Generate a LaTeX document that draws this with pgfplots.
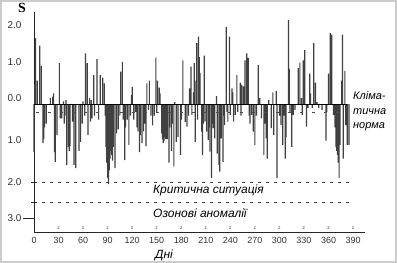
\documentclass[border=0pt]{standalone}
\usepackage{fontspec}
\setmainfont{Liberation Sans}
\newfontfamily\serifS{Liberation Serif}
\usepackage{pgfplots}
\pgfplotsset{compat=1.18}
\begin{document}
\begin{tikzpicture}[x=1bp,y=1bp]
\path[use as bounding box] (0,0) rectangle (397,263);
\fill[white] (0,0) rectangle (397,263);
\draw[black!20, line width=2.5bp] (1.2,1.2) rectangle (395.8,261.8);
\begin{axis}[at={(34bp,31bp)}, anchor=south west, scale only axis,
  width=331bp, height=219.65bp,
  xmin=0, xmax=404.6, ymin=-3.28, ymax=2.35,
  axis x line=bottom, axis y line=left,
  axis line style={-, black!85, line width=0.8pt},
  xtick={0,30,...,390},
  ytick={2.03,1.07,0.15,-0.92,-2.0,-2.93},
  yticklabels={2.0,1.0,0.0,1.0,2.0,3.0},
  major tick length=0pt,
  /pgf/number format/assume math mode=true,
  xticklabel style={font=\fontsize{9}{10}\selectfont, text=black!80, yshift=-2bp},
  yticklabel style={font=\fontsize{10}{11}\selectfont, text=black!80, xshift=-9bp},
  clip=false]
\addplot[ybar, bar width=1.2bp, fill=black!75, draw=none] coordinates {
(0,-1.23)(1,0.49)(2,1.69)(4,0.6)(7,1.5)(9,0.98)(11,-1.0)(12,-0.9)(13,-0.6)(15,-0.5)
(20,0.15)(23,0.19)(24,0.27)(25,-1.23)(26,-1.48)(28,-0.8)(31,1.05)(32,-0.37)(34,-0.37)
(36,0.07)(37,-0.5)(38,-0.3)(39,0.1)(40,-1.56)(42,-1.1)(43,-1.2)(44,-1.08)(47,-0.45)
(49,-1.56)(51,-1.64)(55,-1.2)(57,-0.97)(59,-0.5)(60,0.07)(62,-0.3)(63,1.3)(65,1.05)
(66,-0.8)(68,0.15)(69,-0.45)(70,0.1)(71,-0.37)(73,0.74)(74,-0.3)(77,1.15)(79,-0.4)
(81,0.74)(84,0.68)(86,0.53)(87,-0.3)(88,-1.1)(89,-1.5)(90,-1.9)(91,-2.05)(92,-1.7)
(93,-1.4)(94,-1.2)(95,-1.3)(96,-1.45)(97,-1.1)(99,-1.64)(101,-0.75)(103,-0.65)
(105,-0.3)(106,0.83)(108,1.08)(109,-0.4)(111,-1.44)(112,-0.6)(114,-0.4)(116,-1.05)
(118,-0.3)(119,0.23)(120,0.44)(122,-0.4)(124,-0.2)(126,-0.6)(127,-0.7)(129,-1.23)
(130,-0.8)(132,-1.0)(134,-0.7)(135,-0.5)(137,-1.08)(138,0.53)(140,-0.15)(141,0.6)
(143,-0.3)(145,-0.55)(147,-0.3)(149,1.19)(150,-0.2)(151,0.6)(153,0.42)(154,0.27)
(156,-0.75)(157,-0.9)(158,-1.0)(159,-0.95)(160,-0.85)(161,-0.9)(163,-0.9)(165,-1.5)
(166,-0.6)(168,-1.2)(169,-0.5)(171,-1.6)(172,0.05)(174,-0.97)(176,-0.85)(179,-1.3)
(180,-0.4)(182,1.12)(185,-0.46)(187,-0.58)(189,-0.3)(190,0.4)
(192,0.96)(193,-0.28)(195,0.3)(196,1.05)(197,-0.97)(198,0.6)(199,1.56)(200,-0.4)
(201,1.73)(202,1.2)(203,0.8)(205,-0.71)(206,-1.31)(207,-0.5)(208,1.24)(209,-0.45)
(211,-0.71)(213,-0.92)(214,-0.6)(215,-1.22)(217,-1.9)(218,-0.5)(219,-0.62)(221,-0.88)
(223,0.2)(224,-1.27)(226,-1.56)(227,-1.73)(228,-0.6)(229,-0.88)(231,-1.48)(232,-0.3)
(233,-0.54)(235,1.98)(236,-0.2)(237,-0.45)(239,1.73)(240,-0.28)(242,0.4)(243,0.3)
(244,-0.45)(246,-0.28)(248,0.74)(249,-0.2)(252,0.55)(253,-0.3)(254,0.5)(256,0.45)
(258,1.12)(260,1.3)(262,1.18)(263,-0.3)(264,-0.5)(266,-0.28)(268,-0.71)(270,-1.05)
(272,-0.3)(274,1.0)(276,0.15)(278,-0.37)(281,-1.31)(282,-0.5)(284,-0.88)(285,-1.4)
(287,0.1)(290,-0.62)(292,0.3)(293,-0.8)(296,0.33)(297,-1.9)(300,-0.3)(302,-0.54)
(304,-1.05)(306,-0.3)(307,-1.4)(308,-0.85)(311,2.15)(312,0.9)(313,-0.2)(315,-1.1)
(317,-0.28)(319,-0.15)(323,0.92)(325,1.06)(327,0.15)(328,-0.28)(329,1.12)(331,1.38)
(333,-0.58)(335,-0.1)(337,0.78)(338,0.27)(340,-0.1)(342,1.56)(344,0.55)(346,0.05)
(348,-0.1)(352,-0.15)(357,-0.94)(358,-0.2)(360,0.78)(362,1.82)(364,1.78)(366,-0.28)
(368,-0.6)(369,-1.1)(370,-1.2)(371,-1.3)(372,-1.5)(373,-1.9)(374,-1.05)(376,0.6)
(377,1.78)(378,-1.4)(380,0.85)(381,-0.54)(383,-1.05)(385,-1.05)
};
\addplot[black, line width=1bp] coordinates {(0,0)(383,0)};
\addplot[black!70, line width=0.6pt, dash pattern=on 3bp off 9bp] coordinates {(2,-0.2)(382,-0.2)};
\addplot[black!75, line width=0.6pt, dash pattern=on 3bp off 5bp] coordinates {(0,-2)(390,-2)};
\addplot[black!75, line width=0.6pt, dash pattern=on 3bp off 5bp] coordinates {(0,-2.53)(390,-2.53)};
\draw[black!85, line width=0.8pt] (axis cs:0,-2) ++(-3bp,0bp) -- ++(6bp,0bp);
\draw[black!85, line width=0.8pt] (axis cs:0,-2.53) ++(-3bp,0bp) -- ++(6bp,0bp);
\draw[black!85, line width=0.8pt] (axis cs:0,-2.93) -- ++(-11bp,0bp);
\pgfplotsinvokeforeach{30,60,...,390}{\node[font=\fontsize{5}{5}\selectfont, text=black!70, inner sep=0pt] at (axis cs:#1,-3.28) [yshift=4bp] {z};}
\end{axis}
\node[font=\serifS\bfseries\fontsize{14}{14}\selectfont] at (22,255) {S};
\node[font=\itshape\fontsize{11}{12}\selectfont, anchor=west, inner sep=0pt] at (353,167) {Кліма-};
\node[font=\itshape\fontsize{11}{12}\selectfont, anchor=west, inner sep=0pt] at (353,151.5) {тична};
\node[font=\itshape\fontsize{11}{12}\selectfont, anchor=west, inner sep=0pt] at (353,136) {норма};
\node[font=\itshape\fontsize{12}{13}\selectfont, anchor=west, inner sep=0pt] at (153,73) {Критична ситуація};
\node[font=\itshape\fontsize{12}{13}\selectfont, anchor=west, inner sep=0pt] at (153,50) {Озонові аномалії};
\node[font=\itshape\fontsize{12}{13}\selectfont, anchor=west, inner sep=0pt] at (155,8) {Дні};
\end{tikzpicture}
\end{document}
